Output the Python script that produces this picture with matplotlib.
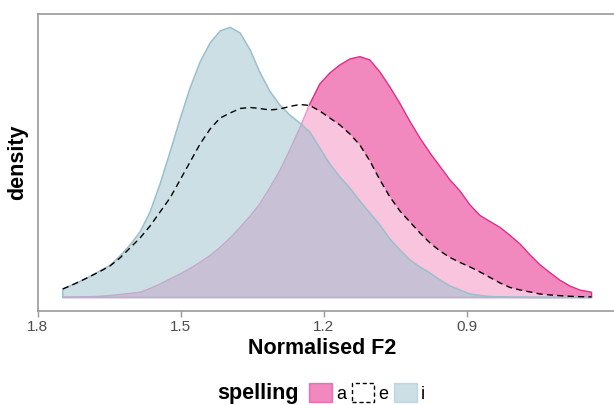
import numpy as np
import matplotlib.pyplot as plt
from matplotlib.patches import Patch

plt.rcParams['font.family'] = ['Liberation Sans', 'DejaVu Sans']

# density estimates, all on the same F2 grid
f2 = [1.747, 1.732, 1.711, 1.690, 1.669, 1.648, 1.627, 1.606, 1.585, 1.564,
      1.543, 1.522, 1.501, 1.480, 1.459, 1.438, 1.417, 1.396, 1.375, 1.354,
      1.334, 1.313, 1.292, 1.271, 1.250, 1.229, 1.208, 1.187, 1.166, 1.145,
      1.124, 1.103, 1.082, 1.061, 1.040, 1.019, 0.998, 0.977, 0.956, 0.935,
      0.914, 0.893, 0.872, 0.851, 0.830, 0.809, 0.788, 0.767, 0.747, 0.726,
      0.705, 0.684, 0.663, 0.638]

dens_a = [0.002, 0.003, 0.005, 0.008, 0.013, 0.022, 0.033, 0.044, 0.058, 0.100,
          0.150, 0.206, 0.261, 0.322, 0.391, 0.467, 0.558, 0.661, 0.780, 0.906,
          1.039, 1.217, 1.409, 1.639, 1.883, 2.150, 2.372, 2.494, 2.583, 2.650,
          2.676, 2.639, 2.506, 2.339, 2.156, 1.956, 1.772, 1.606, 1.456, 1.306,
          1.183, 1.028, 0.911, 0.844, 0.778, 0.689, 0.594, 0.472, 0.367, 0.278,
          0.194, 0.128, 0.083, 0.058]

dens_e = [0.094, 0.128, 0.178, 0.233, 0.289, 0.350, 0.439, 0.550, 0.661, 0.794,
          0.950, 1.106, 1.306, 1.506, 1.706, 1.872, 1.994, 2.050, 2.100, 2.111,
          2.100, 2.083, 2.094, 2.122, 2.144, 2.133, 2.072, 1.994, 1.917, 1.817,
          1.694, 1.517, 1.306, 1.117, 0.961, 0.839, 0.717, 0.606, 0.517, 0.444,
          0.389, 0.339, 0.283, 0.222, 0.161, 0.111, 0.083, 0.061, 0.039, 0.028,
          0.020, 0.013, 0.009, 0.006]

dens_i = [0.094, 0.128, 0.178, 0.233, 0.294, 0.356, 0.461, 0.583, 0.728, 0.950,
          1.261, 1.617, 1.983, 2.328, 2.617, 2.828, 2.961, 3.002, 2.939, 2.750,
          2.506, 2.294, 2.139, 2.028, 1.939, 1.839, 1.661, 1.483, 1.339, 1.217,
          1.072, 0.939, 0.806, 0.650, 0.528, 0.417, 0.339, 0.272, 0.194, 0.128,
          0.083, 0.039, 0.022, 0.011, 0.006, 0.002, 0.001, 0.0, 0.0, 0.0,
          0.0, 0.0, 0.0, 0.0]

x_ticks = [1.8, 1.5, 1.2, 0.9]
spelling = ['a', 'e', 'i']

pink = '#e7298a'
blue = '#9ac0cd'

fig = plt.figure(figsize=(6.14, 4.05), dpi=100)
ax = fig.add_axes([0.0611, 0.2309, 0.9389, 0.7346])

xs = np.array(f2)
poly_x = np.concatenate([xs, [xs[-1], xs[0]]])


def closed(d):
    return np.concatenate([d, [0, 0]])


# a: filled pink with a full outline
ax.fill(poly_x, closed(dens_a), facecolor=pink, alpha=0.55, edgecolor='none')
ax.fill(poly_x, closed(dens_a), facecolor='none', edgecolor=pink, lw=1.0,
        joinstyle='round')
# e: white wash with dashed upper line
ax.fill(poly_x, closed(dens_e), facecolor='white', alpha=0.5, edgecolor='none')
ax.plot(xs, dens_e, color='black', lw=1.0, linestyle=(0, (4.5, 3)))
# i: light blue on top
ax.fill(poly_x, closed(dens_i), facecolor=blue, alpha=0.5, edgecolor='none')
ax.fill(poly_x, closed(dens_i), facecolor='none', edgecolor=blue, lw=1.1,
        joinstyle='round')

ax.set_xlim(1.8, 0.591)
ax.set_ylim(-0.156, 3.15)
ax.set_xticks(x_ticks)
ax.set_xticklabels([f'{t:.1f}' for t in x_ticks])
ax.set_yticks([])
ax.tick_params(axis='x', colors='#999999', labelcolor='#4d4d4d', labelsize=11,
               length=4, width=1, pad=2)
for side in ['left', 'top', 'bottom']:
    ax.spines[side].set_color('#999999')
    ax.spines[side].set_linewidth(1.2)
ax.spines['right'].set_visible(False)

fig.text(322 / 614, 1 - 348 / 405, 'Normalised F2', ha='center', va='center',
         fontsize=15.5, fontweight='bold')
fig.text(18 / 614, 1 - 162 / 405, 'density', ha='center', va='center',
         rotation=90, fontsize=15.5, fontweight='bold')

# legend at the bottom, title to the left of the keys
fig.text(217 / 614, 1 - 393 / 405, 'spelling', ha='left', va='center',
         fontsize=15.5, fontweight='bold')
handles = [Patch(facecolor=pink, alpha=0.55, edgecolor=pink, lw=1.0),
           Patch(facecolor='white', edgecolor='black', lw=1.0, linestyle=(0, (3, 2))),
           Patch(facecolor=blue, alpha=0.5, edgecolor=blue, lw=1.0)]
fig.legend(handles, spelling, loc='center left', bbox_to_anchor=(309 / 614, 1 - 393 / 405),
           ncol=3, frameon=False, fontsize=13, handlelength=1.25, handleheight=1.25,
           handletextpad=0.25, columnspacing=0.3, borderpad=0, borderaxespad=0)

fig.savefig('out.png', dpi=100)
